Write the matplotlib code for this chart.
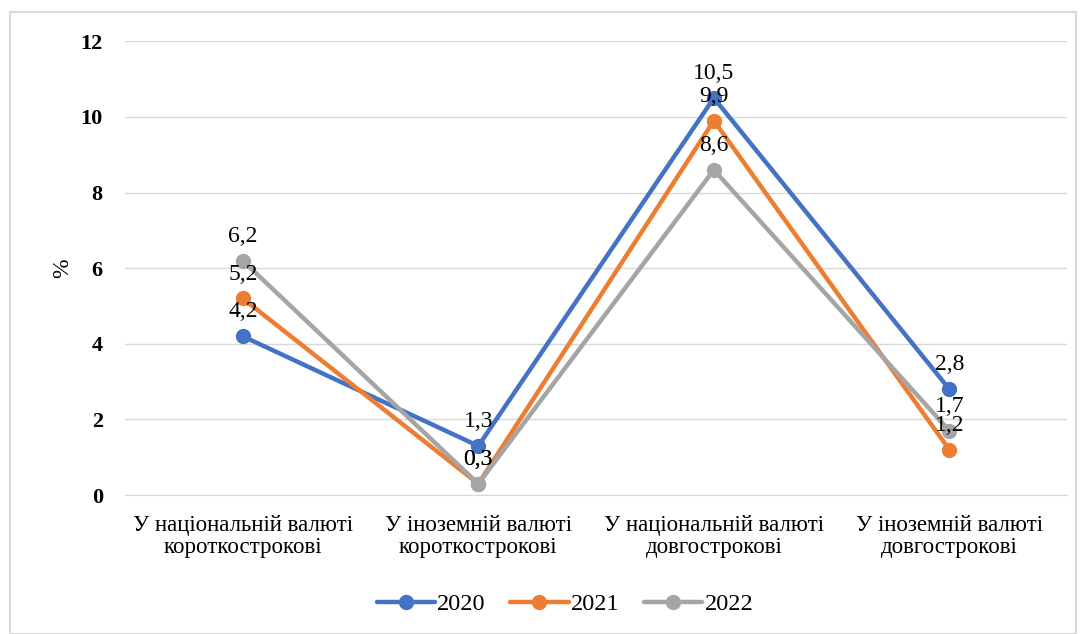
import matplotlib
matplotlib.use("Agg")
import matplotlib.pyplot as plt
from matplotlib.patches import Rectangle

categories = ["У національній валюті\nкороткострокові", "У іноземній валюті\nкороткострокові",
              "У національній валюті\nдовгострокові", "У іноземній валюті\nдовгострокові"]
years = ["2020", "2021", "2022"]
v2020 = [4.2, 1.3, 10.5, 2.8]
v2021 = [5.2, 0.3, 9.9, 1.2]
v2022 = [6.2, 0.3, 8.6, 1.7]
colors = ["#4472C4", "#ED7D31", "#A5A5A5"]
yticks = [0, 2, 4, 6, 8, 10, 12]

plt.rcParams["font.family"] = ["Liberation Serif", "DejaVu Serif"]

fig = plt.figure(figsize=(10.83, 6.34), dpi=100)
ax = fig.add_axes([0.1154, 0.219, 0.870, 0.716])

x = list(range(len(categories)))
for vals, c, name in zip((v2020, v2021, v2022), colors, years):
    ax.plot(x, vals, color=c, lw=3.2, marker="o", ms=10, label=name, solid_capstyle="round", zorder=3)
    for xi, v in zip(x, vals):
        ax.annotate(f"{v:.1f}".replace(".", ","), (xi, v), xytext=(0, 10), textcoords="offset points",
                    ha="center", va="bottom", fontsize=17, color="black", zorder=5)

ax.set_xlim(-0.5, 3.5)
ax.set_ylim(0, 12)
ax.set_yticks(yticks)
ax.set_yticklabels([str(t) for t in yticks], fontsize=16, fontweight="bold")
ax.set_xticks(x)
ax.set_xticklabels(categories, fontsize=16.5, linespacing=1.1)
ax.tick_params(axis="x", length=0, pad=14)
ax.tick_params(axis="y", length=0, pad=16)
ax.grid(axis="y", color="#D9D9D9", lw=1)
ax.set_axisbelow(True)
for s in ax.spines.values():
    s.set_visible(False)
ax.spines["bottom"].set_visible(True)
ax.spines["bottom"].set_color("#D9D9D9")
ax.set_ylabel("%", fontsize=17)
ax.yaxis.set_label_coords(-0.055, 0.5)

ax.legend(loc="center", bbox_to_anchor=(0.467, -0.24), ncol=3, frameon=False, fontsize=17.5,
          handlelength=2.4, columnspacing=1.0, handletextpad=0.1)

fig.patches.append(Rectangle((10 / 1083, 0), 1066 / 1083, 1 - 12 / 634, transform=fig.transFigure,
                             fill=False, edgecolor="#D9D9D9", lw=1.5))

fig.savefig("out.png", dpi=100)
